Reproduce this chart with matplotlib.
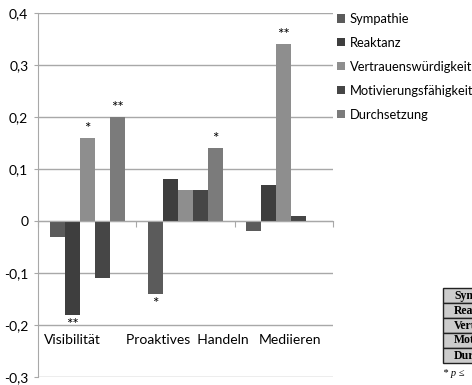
import matplotlib.pyplot as plt
import numpy as np

categories = ["Visibilität", "Proaktives  Handeln", "Mediieren"]
series = ["Sympathie", "Reaktanz", "Vertrauenswürdigkeit", "Motivierungsfähigkeit", "Durchsetzung"]
values = {
    "Sympathie": [-0.03, -0.14, -0.02],
    "Reaktanz": [-0.18, 0.08, 0.07],
    "Vertrauenswürdigkeit": [0.16, 0.06, 0.34],
    "Motivierungsfähigkeit": [-0.11, 0.06, 0.01],
    "Durchsetzung": [0.20, 0.14, np.nan],
}
stars = {
    "Reaktanz": ["**", "", ""],
    "Vertrauenswürdigkeit": ["*", "", "**"],
    "Sympathie": ["", "*", ""],
    "Durchsetzung": ["**", "*", ""],
}
colors = ["#5b5b5b", "#3e3e3e", "#8e8e8e", "#464646", "#7b7b7b"]
yticks = [-0.3, -0.2, -0.1, 0, 0.1, 0.2, 0.3, 0.4]
ytick_labels = ["-0,3", "-0,2", "-0,1", "0", "0,1", "0,2", "0,3", "0,4"]
table_rows = ["Sympathie", "Reaktanz", "Vertrauenswürdigkeit", "Motivierungsfähigkeit", "Durchsetzung"]

plt.rcParams["font.family"] = ["Lato", "DejaVu Sans"]
fig = plt.figure(figsize=(4.72, 3.85), dpi=100)
ax = fig.add_axes([38 / 472, 1 - 377 / 385, 295 / 472, 364 / 385])

x = np.arange(len(categories))
w = 0.1526
grid_c = "#a8a8a8"
for i, name in enumerate(series):
    pos = x + (i - 2) * w
    vals = np.array(values[name])
    ax.bar(pos, vals, w, color=colors[i], label=name, zorder=3)
    for p, v, s in zip(pos, vals, stars.get(name, [""] * 3)):
        if s:
            if v >= 0:
                ax.text(p, v + 0.004, s, ha="center", va="bottom", fontsize=11)
            else:
                ax.text(p, v - 0.006, s, ha="center", va="top", fontsize=11)

ax.set_xlim(-0.5, 2.5)
ax.set_ylim(-0.3, 0.4)
ax.set_yticks(yticks)
ax.set_yticklabels(ytick_labels, fontsize=10)
ax.yaxis.grid(True, color=grid_c, lw=1, zorder=0)
ax.tick_params(axis="y", length=3, color=grid_c, pad=4)

ax.spines["bottom"].set_position(("data", 0))
ax.spines["bottom"].set_color(grid_c)
ax.spines["bottom"].set_zorder(4)
ax.spines["left"].set_color(grid_c)
ax.spines["top"].set_visible(False)
ax.spines["right"].set_visible(False)
ax.set_xticks([-0.5, 0.5, 1.5, 2.5])
ax.set_xticklabels([])
ax.tick_params(axis="x", length=4, color=grid_c)

label_x = [-0.15, 1.02, 2.06]
for lx, cat in zip(label_x, categories):
    ax.text(lx, -0.228, cat, ha="center", va="center", fontsize=10)

fig.legend(loc="upper left", bbox_to_anchor=(337 / 472, 1 - 13 / 385), frameon=False,
           fontsize=9.3, handlelength=0.6, handleheight=0.6, handletextpad=0.4,
           labelspacing=0.92, borderaxespad=0, borderpad=0)

# small table cut off at the right edge
tax = fig.add_axes([443 / 472, 1 - 363 / 385, 110 / 472, 75 / 385])
tax.axis("off")
tab = tax.table(cellText=[[r] for r in table_rows], cellLoc="left", loc="center",
                bbox=[0, 0, 1, 1])
tab.auto_set_font_size(False)
for (r, c), cell in tab.get_celld().items():
    cell.set_facecolor("#cccccc")
    cell.set_edgecolor("#222222")
    cell.set_linewidth(1)
    cell.get_text().set_fontfamily("Liberation Serif")
    cell.get_text().set_fontweight("bold")
    cell.get_text().set_fontsize(8.5)
fig.text(443 / 472, 1 - 373 / 385, "* p ≤", fontsize=7.5,
         family="Liberation Serif", style="italic", va="center")

fig.savefig("out.png", dpi=100)
